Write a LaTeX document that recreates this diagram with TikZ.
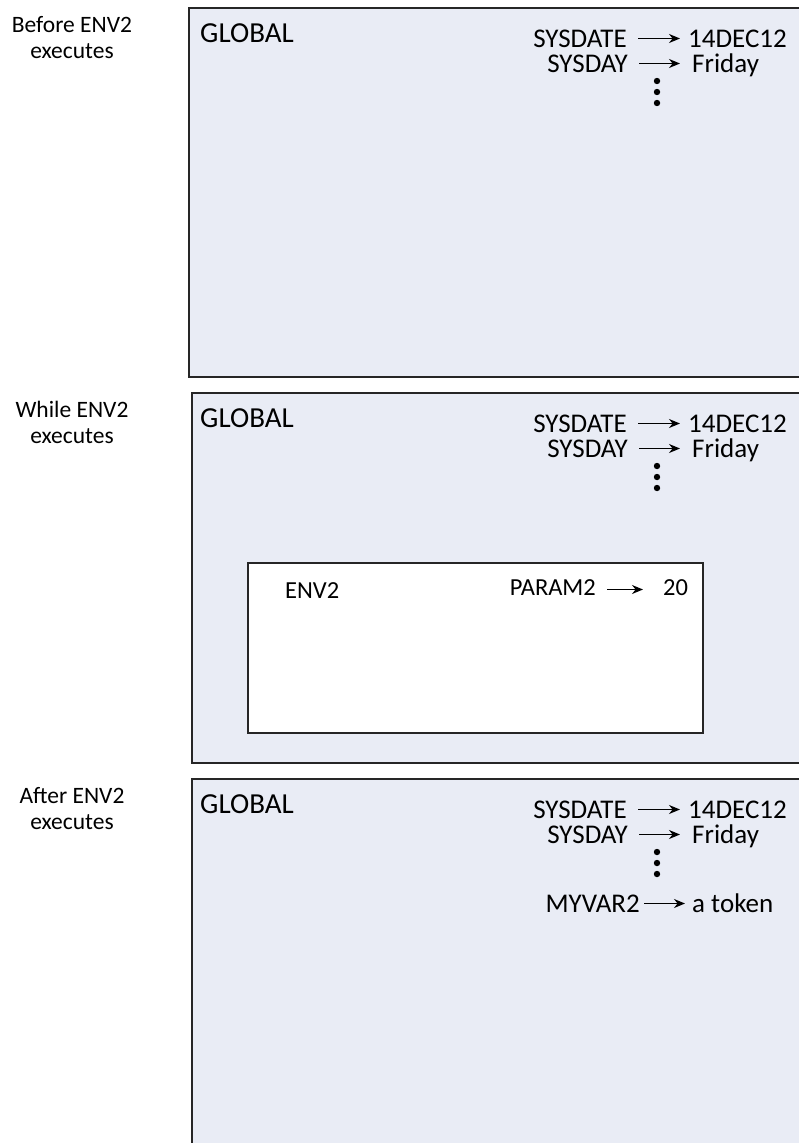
\documentclass[tikz,border=0pt]{standalone}
\usepackage{fontspec}
\setmainfont{Carlito}
\usetikzlibrary{arrows.meta,positioning}
\definecolor{panelfill}{RGB}{233,236,245}
\tikzset{
  panel/.style={draw=black!85,line width=2.2pt,fill=panelfill},
  envbox/.style={draw=black!85,line width=2.2pt,fill=white},
  steplbl/.style={font=\fontsize{23.5}{26}\selectfont,align=center,inner sep=0pt},
  scopelbl/.style={font=\fontsize{29}{32}\selectfont,inner sep=0pt,anchor=base west},
  varname/.style={font=\fontsize{27}{30}\selectfont,inner sep=0pt,anchor=base east,text height=17pt,text depth=0pt},
  varval/.style={font=\fontsize{27}{30}\selectfont,inner sep=0pt,anchor=base west,text height=17pt,text depth=0pt},
  bindto/.style={->,line width=1.4pt,shorten <=11pt,shorten >=8pt}
}

\begin{document}
\begin{tikzpicture}[x=1pt,y=-1pt,>={Stealth[length=11pt,width=9pt]}]
\useasboundingbox (0,0) rectangle (798,1143);
% the three snapshots of the global environment
\foreach \l/\t/\b/\s [count=\i] in {189/8/377/Before,192/393/763/While,192/779/1160/After}{
  \draw[panel] (\l,\t) rectangle (812,\b);
  \node[steplbl,anchor=base] (step\i) at (72,\t+50) {\s{} ENV2\\executes};
  \node[scopelbl] (global\i) at (200,\t+34) {GLOBAL};
  \node[varname] (sysdate\i) at (627,\t+39) {SYSDATE};
  \node[varval] (date\i) at (688,\t+39) {14DEC12};
  \node[varname] (sysday\i) at (628,\t+64) {SYSDAY};
  \node[varval] (day\i) at (692,\t+64) {Friday};
  \draw[bindto] (sysdate\i.east) -- (sysdate\i.east -| date\i.west);
  \draw[bindto,shorten >=12pt] (sysday\i.east) -- (sysday\i.east -| day\i.west);
  \foreach \d in {73,84,95} \fill (657,\t+\d) circle (3.2);
}
% local environment of ENV2
\draw[envbox] (248,563) rectangle (703,733);
\node[varval,font=\fontsize{24.5}{28}\selectfont] (env) at (285,598) {ENV2};
\node[varname,font=\fontsize{24.5}{28}\selectfont] (param) at (596,595) {PARAM2};
\node[varval,font=\fontsize{24.5}{28}\selectfont] (twenty) at (663,595) {20};
\draw[bindto,shorten >=20pt] ([yshift=-3pt]param.east) -- ([yshift=-3pt]param.east -| twenty.west);
% variable left behind after ENV2
\node[varname] (myvar) at (640,912) {MYVAR2};
\node[varval] (token) at (692,912) {a token};
\draw[bindto,shorten <=4pt,shorten >=7pt] (myvar.east) -- (myvar.east -| token.west);
\end{tikzpicture}
\end{document}
